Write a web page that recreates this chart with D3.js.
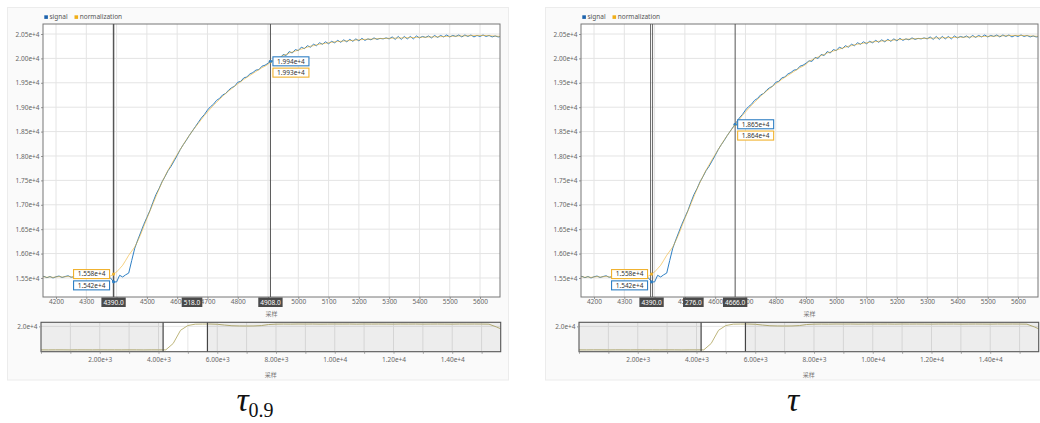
<!DOCTYPE html>
<html>
<head>
<meta charset="utf-8">
<script src="https://cdn.jsdelivr.net/npm/d3@7"></script>
<style>
  body { margin: 0; background: #fff; }
  svg text { font-family: "Noto Sans", "Noto Sans CJK SC", sans-serif; }
</style>
</head>
<body>
<div id="chart"></div>
<script>
// ---- data ----
const mainX = d3.range(4150, 5671, 10);   // sample index, step 10

const signal = [
  15510, 15535, 15505, 15530, 15500, 15525, 15540, 15510, 15530, 15545,
  15515, 15525, 15540, 15510, 15530, 15545, 15515, 15535, 15505, 15530,
  15540, 15510, 15535, 15500, 15420, 15418, 15555, 15520, 15565, 15600,
  15860, 16110, 16280, 16440, 16600, 16740, 16880, 17050, 17210, 17330,
  17470, 17580, 17700, 17790, 17900, 18010, 18130, 18230, 18320, 18420,
  18510, 18600, 18690, 18780, 18850, 18940, 19010, 19060, 19140, 19180,
  19250, 19280, 19350, 19400, 19430, 19510, 19530, 19600, 19620, 19680,
  19710, 19760, 19770, 19840, 19860, 19900, 19950, 19940, 20020, 20000,
  20080, 20060, 20140, 20110, 20180, 20160, 20230, 20200, 20260, 20230,
  20290, 20260, 20320, 20290, 20340, 20300, 20350, 20320, 20370, 20330,
  20380, 20340, 20390, 20350, 20400, 20360, 20410, 20370, 20400, 20380,
  20420, 20390, 20410, 20400, 20420, 20400, 20440, 20390, 20450, 20390,
  20450, 20400, 20450, 20400, 20460, 20420, 20450, 20430, 20460, 20420,
  20470, 20430, 20470, 20440, 20480, 20440, 20470, 20450, 20480, 20440,
  20480, 20450, 20480, 20440, 20470, 20450, 20480, 20450, 20470, 20440,
  20460, 20440, 20450
];

const normalization = [
  15515, 15525, 15515, 15522, 15512, 15520, 15530, 15518, 15525, 15535,
  15520, 15522, 15532, 15515, 15525, 15535, 15520, 15528, 15512, 15525,
  15532, 15518, 15530, 15540, 15580, 15623, 15690, 15760, 15860, 15965,
  16050, 16135, 16260, 16400, 16560, 16720, 16870, 17020, 17170, 17320,
  17460, 17590, 17710, 17820, 17930, 18030, 18130, 18230, 18330, 18420,
  18510, 18590, 18670, 18750, 18830, 18900, 18970, 19040, 19100, 19160,
  19220, 19280, 19330, 19380, 19430, 19480, 19520, 19570, 19610, 19650,
  19690, 19730, 19770, 19810, 19840, 19880, 19940, 19970, 20000, 20030,
  20060, 20080, 20110, 20130, 20150, 20170, 20190, 20210, 20230, 20250,
  20260, 20280, 20290, 20300, 20310, 20320, 20330, 20340, 20345, 20350,
  20355, 20360, 20365, 20370, 20375, 20380, 20385, 20390, 20393, 20396,
  20400, 20403, 20406, 20408, 20410, 20412, 20414, 20416, 20418, 20420,
  20422, 20424, 20426, 20428, 20430, 20432, 20434, 20436, 20438, 20440,
  20442, 20444, 20446, 20448, 20450, 20452, 20454, 20456, 20458, 20460,
  20462, 20464, 20466, 20468, 20470, 20470, 20470, 20468, 20466, 20462,
  20458, 20454, 20450
];

// whole record, shown in the slider underneath
const overviewX = d3.range(0, 15751, 250);
const overviewSignal = [
  15520, 15515, 15525, 15520, 15510, 15525, 15520, 15515, 15525, 15520,
  15520, 15515, 15525, 15520, 15510, 15525, 15520, 15530, 16740, 19250,
  20160, 20420, 20440, 20450, 20400, 20250, 20120, 20080, 20070, 20080,
  20150, 20350, 20420, 20440, 20430, 20450, 20440, 20450, 20430, 20440,
  20450, 20440, 20450, 20430, 20450, 20440, 20450, 20440, 20430, 20450,
  20440, 20450, 20430, 20440, 20450, 20440, 20430, 20450, 20440, 20450,
  20440, 20420, 19900, 19300
];

const mainXTicks = d3.range(4200, 5601, 100);
const mainYTicks = d3.range(15500, 20501, 500);
const overviewXTicks = d3.range(0, 15001, 1000);
const overviewYTicks = [20000];

// cursors: sample index and the values shown in the tooltips
const panels = [
  { dx: 0,   label: "τ", sub: "0.9", cursors: [4390, 4908],
    cursorSignal: [15420, 19940], cursorNorm: [15580, 19930] },
  { dx: 538, label: "τ", sub: "",    cursors: [4390, 4666],
    cursorSignal: [15420, 18650], cursorNorm: [15580, 18640] }
];

const blue = "#2f7fc4", yellow = "#f0b22e";

// ---- drawing ----
const svg = d3.select("#chart").append("svg")
    .attr("width", 1040)
    .attr("height", 423);

const plot = {left: 43, right: 500, top: 24, bottom: 297};
const ov = {left: 41, right: 500.7, top: 322.3, bottom: 351.7};

const x = d3.scaleLinear().domain([4157, 5666]).range([plot.left, plot.right]);
const y = d3.scaleLinear().domain([15110, 20705]).range([plot.bottom, plot.top]);
const xo = d3.scaleLinear().domain([0, 15650]).range([ov.left, ov.right]);
const yo = d3.scaleLinear().domain([15175, 20775]).range([ov.bottom, ov.top]);

const sciFmt = d3.format(".2e");

const defs = svg.append("defs");
defs.append("clipPath").attr("id", "clipMain")
    .append("rect")
    .attr("x", plot.left).attr("y", plot.top)
    .attr("width", plot.right - plot.left).attr("height", plot.bottom - plot.top);
defs.append("clipPath").attr("id", "clipOv")
    .append("rect")
    .attr("x", ov.left).attr("y", ov.top)
    .attr("width", ov.right - ov.left).attr("height", ov.bottom - ov.top);

function styleAxis(g) {
    g.select(".domain").remove();
    g.selectAll(".tick line").attr("stroke", "#999");
    g.selectAll(".tick text").attr("fill", "#666").style("font-size", "6.5px");
}

panels.forEach(function(p, pi) {
    const g = svg.append("g").attr("transform", `translate(${p.dx},0)`);

    // card
    g.append("rect")
        .attr("x", 7.5).attr("y", 7.5)
        .attr("width", 501).attr("height", 372.5)
        .attr("fill", "#fafafa")
        .attr("stroke", "#ececec");

    g.append("rect")
        .attr("x", plot.left).attr("y", plot.top)
        .attr("width", plot.right - plot.left).attr("height", plot.bottom - plot.top)
        .attr("fill", "#fff");

    // grid
    g.append("g").selectAll("line").data(mainXTicks).join("line")
        .attr("x1", d => x(d)).attr("x2", d => x(d))
        .attr("y1", plot.top).attr("y2", plot.bottom)
        .attr("stroke", "#e4e4e4");
    g.append("g").selectAll("line").data(mainYTicks).join("line")
        .attr("x1", plot.left).attr("x2", plot.right)
        .attr("y1", d => y(d)).attr("y2", d => y(d))
        .attr("stroke", "#e4e4e4");

    // axes
    g.append("g")
        .attr("transform", `translate(${plot.left},0)`)
        .call(d3.axisLeft(y).tickValues(mainYTicks).tickFormat(sciFmt).tickSize(2).tickPadding(1.5))
        .call(styleAxis);
    g.append("g")
        .attr("transform", `translate(0,${plot.bottom})`)
        .call(d3.axisBottom(x).tickValues(mainXTicks).tickFormat(d3.format("d")).tickSize(2).tickPadding(0.5))
        .call(styleAxis);

    g.append("text")
        .attr("x", (plot.left + plot.right) / 2).attr("y", 316)
        .attr("text-anchor", "middle")
        .attr("fill", "#777")
        .style("font-size", "6px")
        .text("采样");

    // lines
    const line = d3.line().x((d, i) => x(mainX[i])).y(d => y(d));
    const lines = g.append("g").attr("clip-path", "url(#clipMain)");
    lines.append("path").datum(signal)
        .attr("d", line).attr("fill", "none")
        .attr("stroke", blue).attr("stroke-width", 1);
    lines.append("path").datum(normalization)
        .attr("d", line).attr("fill", "none")
        .attr("stroke", yellow).attr("stroke-width", 1).attr("stroke-opacity", 0.6);

    g.append("rect")
        .attr("x", plot.left).attr("y", plot.top)
        .attr("width", plot.right - plot.left).attr("height", plot.bottom - plot.top)
        .attr("fill", "none").attr("stroke", "#777");

    // legend
    const leg = g.append("g").attr("transform", `translate(${plot.left + 1.3},0)`);
    [["signal", "#1d63ad"], ["normalization", "#f0ae18"]].forEach(function(item, i) {
        const lx = i * 30.2;
        leg.append("rect").attr("x", lx).attr("y", 15.3)
            .attr("width", 3.6).attr("height", 3.6).attr("fill", item[1]);
        leg.append("text").attr("x", lx + 5.2).attr("y", 19.4)
            .attr("fill", "#555").style("font-size", "6.5px")
            .text(item[0]);
    });

    // cursors
    p.cursors.forEach(function(c, ci) {
        const cx = x(c);
        if (pi === 1 && ci === 0) {
            [-1, 1].forEach(o => g.append("line")
                .attr("x1", cx + o).attr("x2", cx + o)
                .attr("y1", plot.top).attr("y2", plot.bottom)
                .attr("stroke", "#555").attr("stroke-width", 0.9));
        } else {
            g.append("line")
                .attr("x1", cx).attr("x2", cx)
                .attr("y1", plot.top).attr("y2", plot.bottom)
                .attr("stroke", "#555").attr("stroke-width", ci === 0 ? 1.5 : 1);
        }

        const s = p.cursorSignal[ci], n = p.cursorNorm[ci];
        g.append("circle").attr("cx", cx).attr("cy", y(n)).attr("r", 1.6).attr("fill", yellow);
        g.append("circle").attr("cx", cx).attr("cy", y(s)).attr("r", 1.6).attr("fill", blue);

        // tooltips: higher value on top
        const items = s >= n ? [[s, blue], [n, yellow]] : [[n, yellow], [s, blue]];
        const bw = 36, bh = 9;
        const bx = ci === 0 ? cx - 4 - bw : cx + 2.5;
        const top = y(items[0][0]) - bh / 2;
        items.forEach(function(it, k) {
            const by = top + k * 11.3;
            g.append("rect").attr("x", bx).attr("y", by)
                .attr("width", bw).attr("height", bh)
                .attr("fill", "#fff").attr("stroke", it[1]).attr("stroke-width", 1.1);
            g.append("text").attr("x", bx + bw / 2).attr("y", by + bh / 2 + 2.3)
                .attr("text-anchor", "middle")
                .attr("fill", "#333").style("font-size", "6.5px")
                .text(d3.format(".3e")(it[0]));
        });
    });

    // value boxes on the x axis
    const boxes = [
        [x(p.cursors[0]), p.cursors[0].toFixed(1)],
        [(x(p.cursors[0]) + x(p.cursors[1])) / 2, (p.cursors[1] - p.cursors[0]).toFixed(1)],
        [x(p.cursors[1]), p.cursors[1].toFixed(1)]
    ];
    boxes.forEach(function(b) {
        const bg = g.append("g");
        const r = bg.append("rect").attr("fill", "#4a4a4a");
        const t = bg.append("text").attr("x", b[0]).attr("y", 304.5)
            .attr("text-anchor", "middle")
            .attr("fill", "#fff").style("font-size", "6.5px")
            .text(b[1]);
        const w = t.node().getComputedTextLength() + 4;
        r.attr("x", b[0] - w / 2).attr("y", 297.5)
            .attr("width", w).attr("height", 9.5);
    });

    // ---- overview slider ----
    g.append("rect")
        .attr("x", ov.left).attr("y", ov.top)
        .attr("width", ov.right - ov.left).attr("height", ov.bottom - ov.top)
        .attr("fill", "#fff");
    g.append("g").selectAll("line").data(overviewXTicks.slice(1)).join("line")
        .attr("x1", d => xo(d)).attr("x2", d => xo(d))
        .attr("y1", ov.top).attr("y2", ov.bottom)
        .attr("stroke", "#e6e6e6");
    g.append("g").selectAll("line").data(overviewYTicks).join("line")
        .attr("x1", ov.left).attr("x2", ov.right)
        .attr("y1", d => yo(d)).attr("y2", d => yo(d))
        .attr("stroke", "#e6e6e6");

    const oline = d3.line().x((d, i) => xo(overviewX[i])).y(d => yo(d));
    g.append("path").datum(overviewSignal)
        .attr("clip-path", "url(#clipOv)")
        .attr("d", oline).attr("fill", "none")
        .attr("stroke", "#bdb57a").attr("stroke-width", 1);

    // shade outside the selected window
    const s0 = xo(x.domain()[0]), s1 = xo(x.domain()[1]);
    g.append("rect").attr("x", ov.left).attr("y", ov.top)
        .attr("width", s0 - ov.left).attr("height", ov.bottom - ov.top)
        .attr("fill", "#000").attr("fill-opacity", 0.07);
    g.append("rect").attr("x", s1).attr("y", ov.top)
        .attr("width", ov.right - s1).attr("height", ov.bottom - ov.top)
        .attr("fill", "#000").attr("fill-opacity", 0.07);
    [s0, s1].forEach(sx => g.append("line")
        .attr("x1", sx).attr("x2", sx).attr("y1", ov.top).attr("y2", ov.bottom)
        .attr("stroke", "#444").attr("stroke-width", 1.2));

    g.append("rect")
        .attr("x", ov.left).attr("y", ov.top)
        .attr("width", ov.right - ov.left).attr("height", ov.bottom - ov.top)
        .attr("fill", "none").attr("stroke", "#555").attr("stroke-width", 1.1);

    g.append("g")
        .attr("transform", `translate(${ov.left},0)`)
        .call(d3.axisLeft(yo).tickValues(overviewYTicks).tickFormat(d3.format(".1e")).tickSize(2).tickPadding(1.5))
        .call(styleAxis);
    g.append("g")
        .attr("transform", `translate(0,${ov.bottom})`)
        .call(d3.axisBottom(xo).tickValues(overviewXTicks)
            .tickFormat(d => (d > 0 && d % 2000 === 0) ? sciFmt(d) : "")
            .tickSize(2).tickPadding(4))
        .call(styleAxis);

    g.append("text")
        .attr("x", (ov.left + ov.right) / 2).attr("y", 377)
        .attr("text-anchor", "middle")
        .attr("fill", "#777")
        .style("font-size", "6px")
        .text("采样");

    // caption
    const cap = g.append("text")
        .attr("x", 255).attr("y", 411)
        .attr("text-anchor", "middle")
        .style("font-family", "'Liberation Serif', 'DejaVu Serif', serif")
        .attr("fill", "#111");
    cap.append("tspan").style("font-style", "italic").style("font-size", "34px").text(p.label);
    if (p.sub) {
        cap.append("tspan").attr("dy", 6).style("font-size", "20px").text(p.sub);
    }
});
</script>
</body>
</html>
